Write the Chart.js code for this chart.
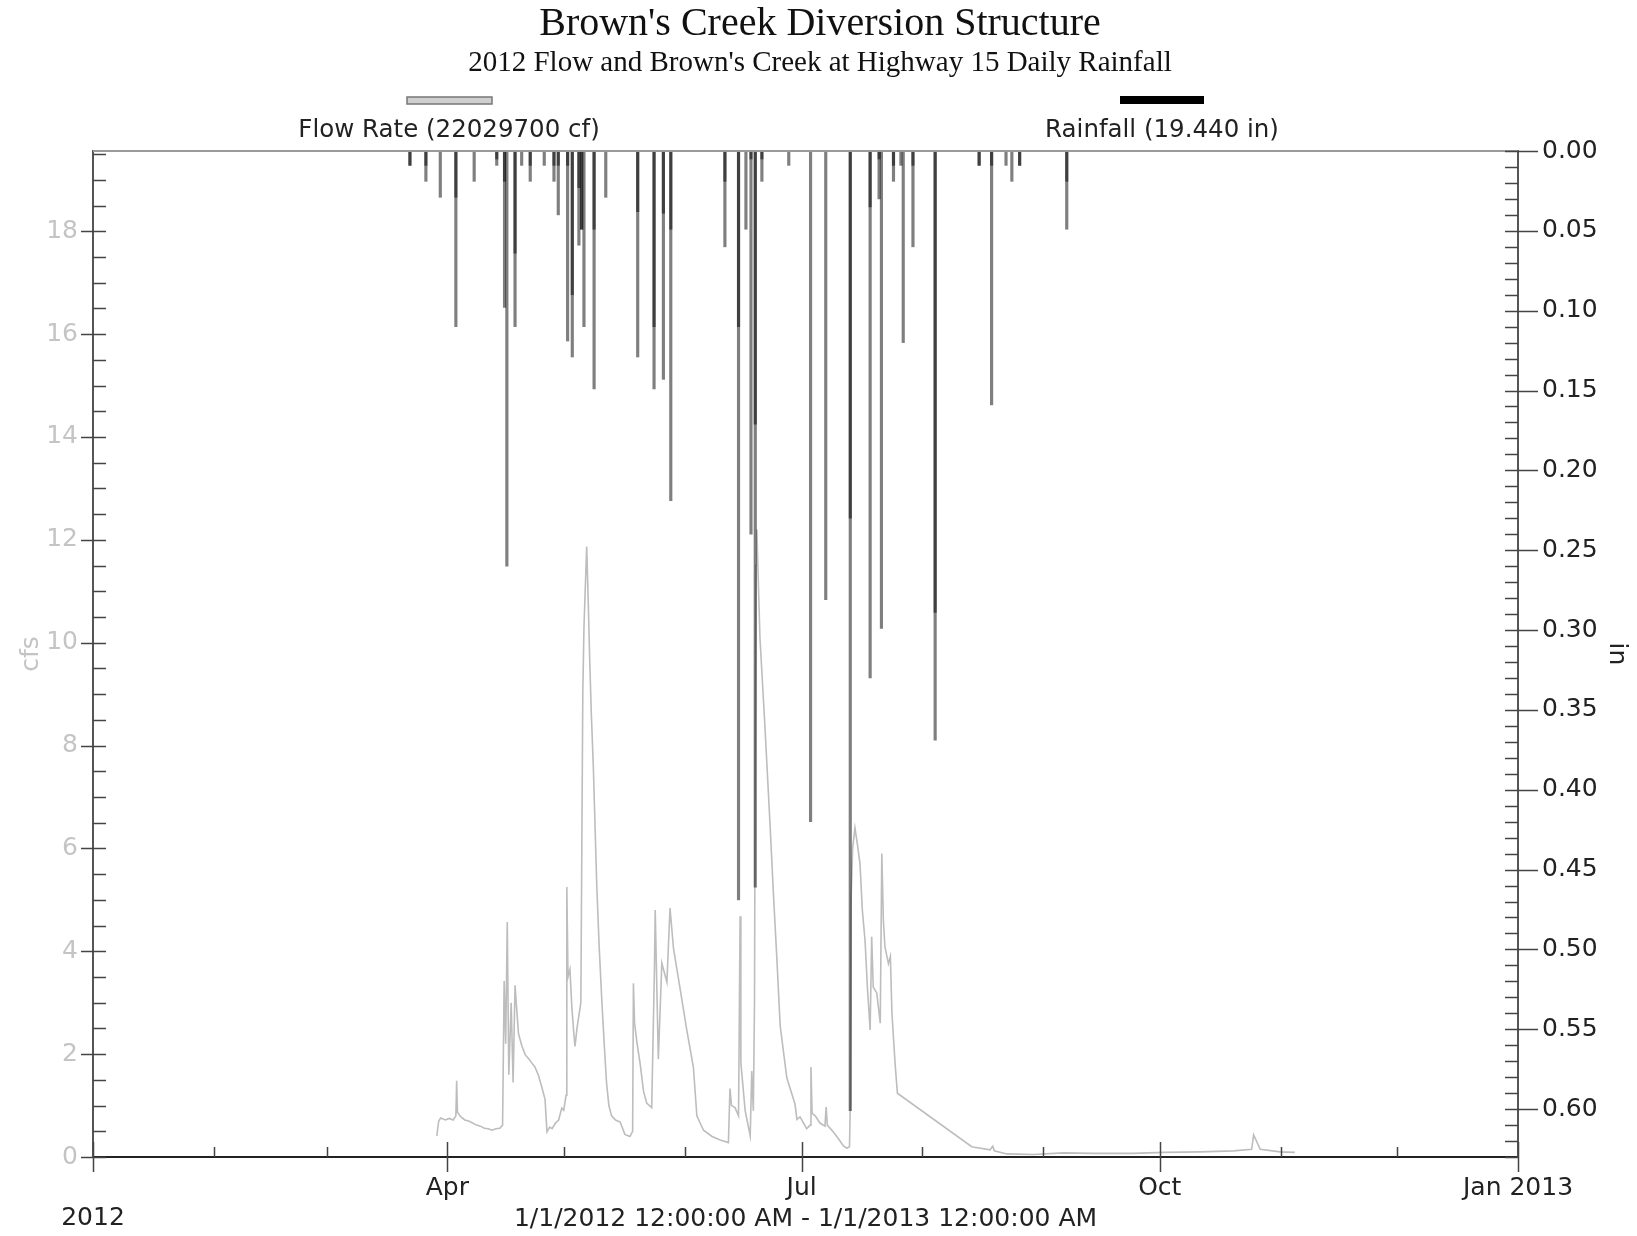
<!DOCTYPE html>
<html>
<head>
<meta charset="utf-8">
<title>Brown's Creek Diversion Structure</title>
<script src="https://cdn.jsdelivr.net/npm/chart.js@4.4.1/dist/chart.umd.min.js"></script>
<style>
body{margin:0;background:#fff;}
#wrap{width:1637px;height:1236px;position:relative;}
</style>
</head>
<body>
<div id="wrap"><canvas id="chartBrowns"></canvas></div>
<script>
// days are counted from 1 Jan 2012 (day 0) to 1 Jan 2013 (day 366)
const monthDays=[0,31,60,91,121,152,182,213,244,274,305,335,366];
const tickDays=[0,91,182,274,366];
const tickLabels=[['','2012'],'Apr','Jul','Oct','Jan 2013'];

const flowTicks=[0,2,4,6,8,10,12,14,16,18];
const rainTicks=[0,0.05,0.10,0.15,0.20,0.25,0.30,0.35,0.40,0.45,0.50,0.55,0.60];

const titleText="Brown's Creek Diversion Structure";
const subtitleText="2012 Flow and Brown's Creek at Highway 15 Daily Rainfall";
const flowLabel="Flow Rate (22029700 cf)";
const rainLabel="Rainfall (19.440 in)";
const rangeLabel="1/1/2012 12:00:00 AM - 1/1/2013 12:00:00 AM";

// flow rate, cfs
const flowDay=[88.3,88.8,89.3,90.5,91.5,92.5,93.2,93.4,93.6,94.5,95.5,96.5,97.5,98.5,99.5,100.5,101.5,102.5,103.5,104.5,
105.2,105.6,106.0,106.4,106.8,107.4,107.9,108.4,108.8,109.3,110.2,111.0,112.0,112.7,113.5,114.4,115.3,116.1,116.6,117.3,
117.9,118.8,119.6,120.4,120.9,121.5,121.7,122.0,122.5,123.0,123.5,123.8,124.3,124.7,125.3,125.8,126.1,126.5,126.8,127.2,
127.6,128.0,128.5,129.0,129.4,130.0,130.7,131.3,131.9,132.5,133.2,134.2,135.4,136.6,137.9,138.6,138.8,139.1,139.7,140.5,
141.4,142.2,143.5,144.2,144.4,145.2,146.1,147.4,148.2,149.1,150.8,152.5,154.2,155.1,156.8,159.0,161.1,163.2,163.6,164.0,
164.9,165.8,166.2,166.4,167.5,168.8,169.2,169.6,169.9,170.1,170.3,170.5,171.3,172.6,173.9,174.8,175.6,176.5,178.2,180.3,
180.8,181.6,182.5,183.3,184.2,184.4,184.7,185.5,186.7,188.0,188.3,188.6,190.2,191.5,192.7,193.6,194.3,194.5,194.7,195.1,
195.7,196.3,197.0,197.6,198.3,198.9,199.6,200.0,200.4,201.3,202.2,202.6,203.0,203.4,204.3,204.8,205.2,206.0,206.6,225.7,
230.4,231.1,231.5,234.7,241.5,249.2,257.0,267.2,275.0,284.4,292.9,297.6,298.1,299.8,304.9,308.7];
const flowCfs=[0.41,0.70,0.76,0.72,0.75,0.72,0.80,1.48,0.87,0.78,0.72,0.70,0.66,0.62,0.60,0.56,0.55,0.52,0.55,0.56,
0.62,3.42,2.20,4.57,1.60,3.00,1.45,3.34,2.90,2.39,2.15,1.99,1.90,1.83,1.75,1.59,1.35,1.12,0.49,0.58,
0.55,0.66,0.72,0.95,0.91,1.20,5.25,3.50,3.65,2.90,2.40,2.15,2.50,2.70,3.00,9.00,10.3,11.2,11.87,10.8,
9.6,8.6,7.6,6.3,5.25,4.10,3.02,2.20,1.44,1.00,0.80,0.72,0.68,0.44,0.40,0.50,3.38,2.60,2.23,1.83,
1.28,1.05,0.96,3.65,4.80,1.90,3.77,3.40,4.84,4.05,3.27,2.47,1.75,0.80,0.52,0.40,0.33,0.28,1.33,1.00,
0.96,0.80,4.68,1.83,0.90,0.41,1.67,0.90,3.00,8.00,11.5,12.2,10.1,8.34,6.45,5.06,3.92,2.55,1.54,1.03,
0.73,0.78,0.66,0.55,0.62,1.75,0.85,0.80,0.66,0.60,0.97,0.62,0.48,0.35,0.22,0.17,0.20,1.00,5.00,6.00,
6.40,6.10,5.70,4.80,4.20,3.30,2.47,4.28,3.30,3.19,2.60,5.90,4.60,4.09,3.76,3.90,2.80,1.83,1.24,0.20,
0.14,0.21,0.12,0.06,0.05,0.08,0.07,0.07,0.09,0.10,0.12,0.15,0.43,0.15,0.10,0.09];

// rainfall readings, in (two readings on one day overlap darker)
const rainDay=[81.4,81.4,85.5,85.5,89.2,93.2,93.2,97.9,103.7,103.7,105.7,105.7,106.3,108.4,108.4,110.1,112.3,112.3,115.9,
118.4,118.4,119.5,119.5,121.9,121.9,123.1,123.1,124.8,124.8,125.5,125.5,126.1,128.7,128.7,131.7,139.9,139.9,
144.1,144.1,146.5,146.5,148.4,148.4,162.3,162.3,165.8,165.8,167.7,169.0,169.0,170.1,170.1,171.8,171.8,178.7,
184.3,188.2,194.5,194.5,199.6,199.6,201.9,201.9,202.5,205.6,205.6,207.5,208.1,210.6,210.6,216.3,216.3,
227.6,227.6,230.8,230.8,234.5,236.0,238.0,238.0,250.1,250.1];
const rainIn=[0.009,0.009,0.019,0.009,0.029,0.110,0.029,0.019,0.009,0.005,0.098,0.019,0.260,0.110,0.064,0.009,0.019,0.009,0.009,
0.019,0.009,0.040,0.009,0.119,0.009,0.129,0.090,0.059,0.023,0.049,0.049,0.110,0.149,0.049,0.029,0.129,0.038,
0.149,0.110,0.143,0.039,0.219,0.049,0.060,0.019,0.469,0.110,0.049,0.240,0.005,0.461,0.171,0.019,0.005,0.009,
0.420,0.281,0.601,0.230,0.330,0.035,0.030,0.005,0.299,0.019,0.009,0.009,0.120,0.060,0.009,0.369,0.289,
0.009,0.009,0.159,0.009,0.009,0.019,0.009,0.009,0.049,0.019];

const sans="'DejaVu Sans'";

const decorations={
id:'decorations',
afterDraw(chart){
const ctx=chart.ctx;
const a=chart.chartArea;
const x=chart.scales.x;
const yf=chart.scales.yFlow;
const yr=chart.scales.yRain;
ctx.save();

// top frame
ctx.strokeStyle='#9a9a9a';
ctx.lineWidth=2;
ctx.beginPath();
ctx.moveTo(a.left,a.top);
ctx.lineTo(a.right,a.top);
ctx.stroke();

ctx.strokeStyle='#444';
ctx.lineWidth=1.5;
ctx.beginPath();
for(let i=0;i<=39;i++){
let py=Math.round(yf.getPixelForValue(i*0.5))+0.5;
ctx.moveTo(i%4==0?a.left-12:a.left,py);
ctx.lineTo(a.left+13,py);
}
for(let i=0;i<=63;i++){
let py=Math.round(yr.getPixelForValue(i*0.01))+0.5;
ctx.moveTo(a.right-13,py);
ctx.lineTo(i%5==0?a.right+20:a.right,py);
}
monthDays.forEach(d=>{
let px=Math.round(x.getPixelForValue(d))+0.5;
let major=tickDays.includes(d);
ctx.moveTo(px,major?a.bottom-15:a.bottom-10);
ctx.lineTo(px,major?a.bottom+15:a.bottom);
});
ctx.stroke();

// titles
ctx.fillStyle='#111';
ctx.textAlign='center';
ctx.textBaseline='middle';
ctx.font="40px 'Liberation Serif'";
ctx.fillText(titleText,820,24);
ctx.font="29px 'Liberation Serif'";
ctx.fillText(subtitleText,820,63);

// legend
ctx.fillStyle='#cfcfcf';
ctx.fillRect(407,97,85,7);
ctx.strokeStyle='#777';
ctx.lineWidth=1.5;
ctx.strokeRect(407,97,85,7);
ctx.fillStyle='#000';
ctx.fillRect(1120,96,84,8);
ctx.fillStyle='#222';
ctx.font="24.5px "+sans;
ctx.fillText(flowLabel,449,131);
ctx.fillText(rainLabel,1162,131);
ctx.restore();
}
};

const tickFont={family:"DejaVu Sans",size:25};

new Chart(document.getElementById("chartBrowns"),{
type:'line',
data:{
datasets:[{
type:'bar',
label:'Rainfall',
data:rainDay.map((d,i)=>({x:d,y:rainIn[i]})),
xAxisID:'x',
yAxisID:'yRain',
backgroundColor:'rgba(0,0,0,0.5)',
borderWidth:0,
barThickness:2.5,
order:0
},{
type:'line',
label:'Flow Rate',
data:flowDay.map((d,i)=>({x:d,y:flowCfs[i]})),
xAxisID:'x',
yAxisID:'yFlow',
borderColor:'#bdbdbd',
borderWidth:1.6,
pointRadius:0,
tension:0,
order:1
}]
},
options:{
responsive:true,
maintainAspectRatio:false,
animation:false,
events:[],
layout:{padding:{top:151,left:0,right:0,bottom:0}},
plugins:{legend:{display:false},tooltip:{enabled:false}},
scales:{
x:{
type:'linear',min:0,max:366,offset:false,
afterBuildTicks:s=>{s.ticks=tickDays.map(v=>({value:v}));},
afterFit:s=>{s.height=79;},
grid:{display:false,drawTicks:false},
border:{display:true,color:'#222',width:2},
ticks:{autoSkip:false,maxRotation:0,padding:16,color:'#222',font:tickFont,
callback:v=>tickLabels[tickDays.indexOf(v)]},
title:{display:true,text:rangeLabel,color:'#222',font:tickFont,padding:{top:0,bottom:2}}
},
yFlow:{
type:'linear',position:'left',min:0,max:19.56,
afterBuildTicks:s=>{s.ticks=flowTicks.map(v=>({value:v}));},
afterFit:s=>{s.width=93;},
grid:{display:false,drawTicks:false},
border:{display:true,color:'#555',width:2},
ticks:{padding:15,color:'#c4c4c4',font:tickFont,callback:v=>String(v)},
title:{display:true,text:'cfs',color:'#c4c4c4',font:tickFont,padding:{top:16,bottom:0}}
},
yRain:{
type:'linear',position:'right',reverse:true,min:0,max:0.63,
afterBuildTicks:s=>{s.ticks=rainTicks.map(v=>({value:v}));},
afterFit:s=>{s.width=119;},
grid:{display:false,drawTicks:false},
border:{display:true,color:'#555',width:2},
ticks:{padding:24,color:'#222',font:tickFont,callback:v=>v.toFixed(2)},
title:{display:true,text:'in',color:'#222',font:tickFont,padding:{top:6,bottom:0}}
}
}
},
plugins:[decorations]
});
</script>
</body>
</html>
